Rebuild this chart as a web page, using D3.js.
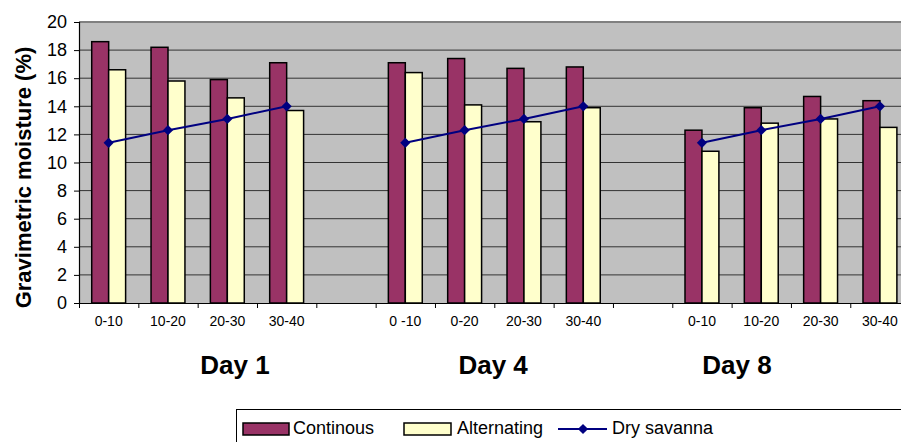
<!DOCTYPE html>
<html>
<head>
<meta charset="utf-8">
<script src="https://cdn.jsdelivr.net/npm/d3@7"></script>
<style>
  body { margin: 0; background: #fff; }
  svg { display: block; font-family: "Liberation Sans", Arial, sans-serif; }
</style>
</head>
<body>
<div id="chart"></div>
<script>
// depth classes, blank slots separate the days
const depths = ["0-10", "10-20", "20-30", "30-40", "", "0 -10", "0-20", "20-30", "30-40", "", "0-10", "10-20", "20-30", "30-40"];
const continuous = [18.6, 18.2, 15.9, 17.1, null, 17.1, 17.4, 16.7, 16.8, null, 12.3, 13.9, 14.7, 14.4];
const alternating = [16.6, 15.8, 14.6, 13.7, null, 16.4, 14.1, 12.9, 13.9, null, 10.8, 12.8, 13.1, 12.5];
const drySavanna = [11.4, 12.3, 13.1, 14.0, null, 11.4, 12.3, 13.1, 14.0, null, 11.4, 12.3, 13.1, 14.0];
const days = ["Day 1", "Day 4", "Day 8"];
const yTicks = [0, 2, 4, 6, 8, 10, 12, 14, 16, 18, 20];
const seriesNames = ["Continous", "Alternating", "Dry savanna"];

const W = 901, H = 442;
const margin = { left: 79, top: 22, bottom: 303 };
const plotRight = 909.6;

const colCont = "#993366", colAlt = "#ffffcc", colLine = "#000080";

const svg = d3.select("#chart").append("svg")
    .attr("width", W)
    .attr("height", H);

// scales
const x = d3.scaleBand().domain(d3.range(depths.length)).range([margin.left, plotRight]).padding(0);
const xEdge = d3.scaleLinear().domain([0, depths.length]).range([margin.left, plotRight]);
const y = d3.scaleLinear().domain([0, 20]).range([margin.bottom, margin.top]);
const barW = x.bandwidth() / 3.5;
const cx = i => x(i) + x.bandwidth() / 2;

// plot area background
svg.append("rect")
    .attr("x", margin.left).attr("y", margin.top)
    .attr("width", plotRight - margin.left)
    .attr("height", margin.bottom - margin.top)
    .attr("fill", "#c0c0c0");

// gridlines
svg.append("g").selectAll("line")
    .data(yTicks.filter(d => d > 0 && d < 20))
    .enter().append("line")
    .attr("x1", margin.left).attr("x2", plotRight)
    .attr("y1", d => y(d)).attr("y2", d => y(d))
    .attr("stroke", "#333").attr("stroke-width", 1);

// top border of plot
svg.append("line")
    .attr("x1", margin.left).attr("x2", plotRight)
    .attr("y1", y(20)).attr("y2", y(20))
    .attr("stroke", "#808080").attr("stroke-width", 2);

// bars
const bars = svg.append("g");
bars.selectAll(".cont")
    .data(continuous.map((v, i) => ({ v, i })).filter(d => d.v != null))
    .enter().append("rect")
    .attr("x", d => cx(d.i) - barW)
    .attr("y", d => y(d.v))
    .attr("width", barW)
    .attr("height", d => y(0) - y(d.v))
    .attr("fill", colCont).attr("stroke", "#000").attr("stroke-width", 1.5);

bars.selectAll(".alt")
    .data(alternating.map((v, i) => ({ v, i })).filter(d => d.v != null))
    .enter().append("rect")
    .attr("x", d => cx(d.i))
    .attr("y", d => y(d.v))
    .attr("width", barW)
    .attr("height", d => y(0) - y(d.v))
    .attr("fill", colAlt).attr("stroke", "#000").attr("stroke-width", 1.5);

// dry savanna line, broken at the blank slots
const line = d3.line()
    .defined(d => d != null)
    .x((d, i) => cx(i))
    .y(d => y(d));

svg.append("path")
    .datum(drySavanna)
    .attr("d", line)
    .attr("fill", "none").attr("stroke", colLine).attr("stroke-width", 2);

const diamond = d3.symbol().type(d3.symbolSquare).size(52);
svg.append("g").selectAll("path")
    .data(drySavanna.map((v, i) => ({ v, i })).filter(d => d.v != null))
    .enter().append("path")
    .attr("d", diamond)
    .attr("transform", d => "translate(" + cx(d.i) + "," + y(d.v) + ") rotate(45)")
    .attr("fill", colLine);

// y axis
const yAxis = svg.append("g")
    .attr("transform", "translate(" + margin.left + ",0)")
    .call(d3.axisLeft(y).tickValues(yTicks).tickSize(5).tickPadding(7));
yAxis.selectAll("text").style("font-size", "18px").attr("fill", "#000");
yAxis.selectAll("line,path").attr("stroke", "#000");
yAxis.select(".domain").attr("stroke-width", 1.2);

// x axis: ticks on slot edges, labels in the middle
const xAxis = svg.append("g")
    .attr("transform", "translate(0," + margin.bottom + ")")
    .call(d3.axisBottom(xEdge).tickValues(d3.range(depths.length + 1)).tickFormat("").tickSize(5).tickSizeOuter(0));
xAxis.selectAll("line,path").attr("stroke", "#000");
xAxis.select(".domain").attr("stroke-width", 1.2);

const xLabels = svg.append("g")
    .attr("transform", "translate(0," + margin.bottom + ")")
    .call(d3.axisBottom(x).tickFormat(i => depths[i]).tickSize(0).tickPadding(13));
xLabels.select(".domain").remove();
xLabels.selectAll("text").style("font-size", "14px").attr("fill", "#000");

// day labels (placed by hand in the original)
const dayAt = [2.63, 6.98, 11.09];
svg.append("g").selectAll("text")
    .data(days)
    .enter().append("text")
    .attr("x", (d, i) => xEdge(dayAt[i]))
    .attr("y", 374)
    .attr("text-anchor", "middle")
    .style("font-size", "26px").style("font-weight", "bold")
    .text(d => d);

// y title
svg.append("text")
    .attr("transform", "translate(23," + (margin.top + margin.bottom + 30) / 2 + ") rotate(-90)")
    .attr("text-anchor", "middle")
    .attr("dominant-baseline", "central")
    .style("font-size", "22px").style("font-weight", "bold")
    .text("Gravimetric moisture (%)");

// legend
const lg = svg.append("g");
lg.append("rect")
    .attr("x", 236.5).attr("y", 409.5)
    .attr("width", 700).attr("height", 60)
    .attr("fill", "#fff").attr("stroke", "#000").attr("stroke-width", 1);

lg.append("rect").attr("x", 243).attr("y", 423).attr("width", 46).attr("height", 12)
    .attr("fill", colCont).attr("stroke", "#000").attr("stroke-width", 1.5);
lg.append("rect").attr("x", 404).attr("y", 423).attr("width", 47).attr("height", 12)
    .attr("fill", colAlt).attr("stroke", "#000").attr("stroke-width", 1.5);
lg.append("line").attr("x1", 558).attr("x2", 607).attr("y1", 429).attr("y2", 429)
    .attr("stroke", colLine).attr("stroke-width", 2);
lg.append("path").attr("d", diamond).attr("transform", "translate(583,429) rotate(45)").attr("fill", colLine);

lg.selectAll("text")
    .data(seriesNames)
    .enter().append("text")
    .attr("x", (d, i) => [293, 457, 612][i])
    .attr("y", 434)
    .style("font-size", "18px")
    .text(d => d);
</script>
</body>
</html>
